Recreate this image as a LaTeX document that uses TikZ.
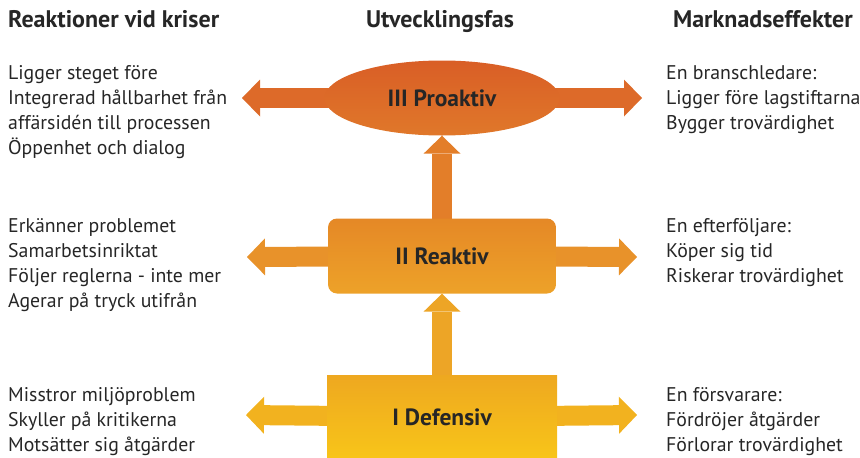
\documentclass[tikz,border=0pt]{standalone}
\usepackage{fontspec}
\setmainfont{PT Sans}
\usetikzlibrary{positioning, arrows.meta, shapes.geometric, backgrounds}
\definecolor{proTop}{HTML}{D95E26}
\definecolor{proBot}{HTML}{E0782A}
\definecolor{reaTop}{HTML}{E58826}
\definecolor{reaBot}{HTML}{EDA229}
\definecolor{defTop}{HTML}{EEA820}
\definecolor{defBot}{HTML}{F8C519}
\definecolor{proPil}{HTML}{DD6A29}
\definecolor{upPil}{HTML}{E37E29}
\definecolor{reaPil}{HTML}{E8922A}
\definecolor{defPil}{HTML}{F2B21F}
\definecolor{defUp}{HTML}{EDA526}
\definecolor{textgray}{HTML}{262626}

\begin{document}
\begin{tikzpicture}[x=1pt, y=-1pt,
		fas/.style={align=center, inner sep=0pt, text=textgray, font=\bfseries\fontsize{23.5}{26}\selectfont},
		pil/.style={line width=20pt, -{Triangle[width=37pt, length=18pt, line width=0pt]}},
		txt/.style={align=left, inner sep=0pt, text=textgray, font=\fontsize{19.8}{25}\selectfont},
		rubrik/.style={inner sep=0pt, text=textgray, font=\bfseries\fontsize{24}{28}\selectfont}]
	\useasboundingbox (0,0) rectangle (860,458);

	% faser
	\node[fas, ellipse, minimum width=235pt, minimum height=75pt, top color=proTop, bottom color=proBot] (pro) at (442,98) {III Proaktiv};
	\node[fas, rectangle, rounded corners=9pt, minimum width=228pt, minimum height=75pt, top color=reaTop, bottom color=reaBot] (rea) at (442,256) {II Reaktiv};
	\node[fas, rectangle, minimum width=230pt, minimum height=84pt, top color=defTop, bottom color=defBot] (def) at (442,417) {I Defensiv};

	% spetsar
	\coordinate (proV) at (242,98);
	\coordinate (proH) at (642,98);
	\coordinate (reaV) at (247,257);
	\coordinate (reaH) at (637,257);
	\coordinate (defV) at (246,415);
	\coordinate (defH) at (637,415);

	\begin{scope}[on background layer]
		\draw[pil, proPil] (pro.center) -- (proV);
		\draw[pil, proPil] (pro.center) -- (proH);
		\draw[pil, reaPil] (rea.center) -- (reaV);
		\draw[pil, reaPil] (rea.center) -- (reaH);
		\draw[pil, defPil] (def.center) -- (defV);
		\draw[pil, defPil] (def.center) -- (defH);
		\draw[pil, upPil] (rea.center) -- (pro.south);
		\draw[pil, defUp] (def.center) -- (rea.south);
	\end{scope}

	% rubriker
	\node[rubrik, anchor=base west] (rubV) at (8,27) {Reaktioner vid kriser};
	\node[rubrik, anchor=base] (rubM) at (440,27) {Utvecklingsfas};
	\node[rubrik, anchor=base east] (rubH) at (853,27) {Marknadseffekter};

	% reaktioner
	\node[txt, anchor=north west] (txtPro) at (8,65) {Ligger steget före\\Integrerad hållbarhet från\\affärsidén till processen\\Öppenhet och dialog};
	\node[txt, anchor=north west] (txtRea) at (8,218.5) {Erkänner problemet\\Samarbetsinriktat\\Följer reglerna - inte mer\\Agerar på tryck utifrån};
	\node[txt, anchor=north west] (txtDef) at (8,387.5) {Misstror miljöproblem\\Skyller på kritikerna\\Motsätter sig åtgärder};

	% effekter
	\node[txt, anchor=north west] (effPro) at (666,65) {En branschledare:\\Ligger före lagstiftarna\\Bygger trovärdighet};
	\node[txt, anchor=north west] (effRea) at (666,218.5) {En efterföljare:\\Köper sig tid\\Riskerar trovärdighet};
	\node[txt, anchor=north west] (effDef) at (666,387.5) {En försvarare:\\Fördröjer åtgärder\\Förlorar trovärdighet};
\end{tikzpicture}
\end{document}
